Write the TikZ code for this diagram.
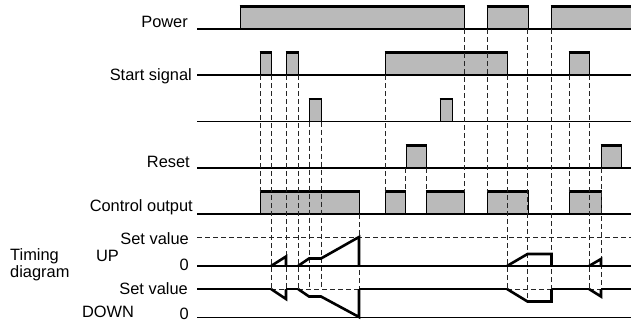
\documentclass[tikz,border=0pt]{standalone}
\usepackage{fontspec}
\setmainfont{Liberation Sans}
\usetikzlibrary{positioning}

\begin{document}
\begin{tikzpicture}[
    x=1pt, y=-1pt,
    font=\fontsize{16.4}{17}\selectfont,
    base/.style={line width=1.3pt, draw=black},
    pulse/.style={fill=black!27, draw=none},
    ptop/.style={line width=2.2pt, draw=black},
    pside/.style={line width=1pt, draw=black},
    guide/.style={line width=0.8pt, draw=black!85, dash pattern=on 5pt off 3pt},
    curve/.style={line width=2.6pt, draw=black, line join=miter},
    lab/.style={anchor=base east, inner sep=0pt}
  ]
  \useasboundingbox (0,0) rectangle (631,322);
  % labels
  \node[lab] (power) at (188,27) {Power};
  \node[lab] (start) at (192,80) {Start signal};
  \node[lab] (reset) at (190,167.5) {Reset};
  \node[lab] (ctrl) at (193,211) {Control output};
  \node[lab] (upset) at (189,244) {Set value};
  \node[lab, anchor=base] (up) at (107.5,261) {UP};
  \node[lab] (upzero) at (189,270.5) {0};
  \node[anchor=base west, align=left, inner sep=0pt] (timing) at (10,277) {Timing\\diagram};
  \node[lab] (dnset) at (188,294.5) {Set value};
  \node[lab, anchor=base] (down) at (108,317.5) {DOWN};
  \node[lab] (dnzero) at (189,319.5) {0};
  % pulses (baseline / edges)
  \foreach \y/\pl in {29/{240/464,487/528,551/636}, 75/{260/271,286/298,385/507,569/589},
      121.5/{309/321,440/452}, 168/{406/426,601/621},
      214/{260/359,385/405,426/464,487/528,569/601}}{
    \foreach \a/\b in \pl{
      \fill[pulse] (\a,\y) rectangle (\b,\y-22.5);
      \draw[pside] (\a,\y) -- (\a,\y-22.5) (\b,\y-22.5) -- (\b,\y);
      \draw[ptop] (\a-0.5,\y-22.5) -- (\b+0.5,\y-22.5);
    }
    \draw[base] (197,\y) -- (631,\y);
  }
  % dashed guides
  \foreach \x/\ya/\yb in {260/75/191.5, 271/75/289, 286/75/289, 298/75/289,
      309/121.5/289, 321/121.5/289, 359/214/317,
      385/75/191.5, 405/168/191.5, 426/168/191.5, 464/29/191.5, 487/29/191.5,
      507/75/289, 527.5/29/301.5, 551.5/29/289, 569/75/191.5, 589/75/289, 601/168/289}
    \draw[guide] (\x,\ya) -- (\x,\yb);
  % timing diagram levels
  \draw[guide] (197,237) -- (631,237);
  \draw[curve] (197,266) -- (631,266);
  \draw[base, line width=1pt] (197,317) -- (631,317);
  \draw[curve] (197,289) -- (271,289) (286,289) -- (298,289) (359,289) -- (507,289)
    (551.5,289) -- (589,289) (601,289) -- (631,289);
  \draw[guide] (271,289) -- (286,289) (298,289) -- (359,289) (507,289) -- (551.5,289)
    (589,289) -- (601,289);
  % UP count
  \draw[curve] (271,266) -- (286,256.5) -- (286,266);
  \draw[curve] (298,266) -- (309,258.5) -- (321,258.5) -- (359,237) -- (359,266);
  \draw[curve] (507,266) -- (527.5,254) -- (551.5,254) -- (551.5,266);
  \draw[curve] (589,266) -- (601,259) -- (601,266);
  % DOWN count
  \draw[curve] (271,289) -- (286,299) -- (286,289);
  \draw[curve] (298,289) -- (309,296.5) -- (321,296.5) -- (359,317) -- (359,289);
  \draw[curve] (507,289) -- (527.5,301.5) -- (551.5,301.5) -- (551.5,289);
  \draw[curve] (589,289) -- (601,296.5) -- (601,289);
\end{tikzpicture}
\end{document}
